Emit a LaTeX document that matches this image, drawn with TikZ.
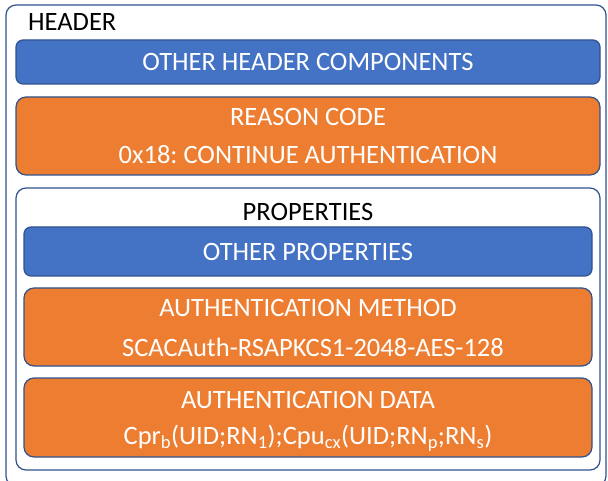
\documentclass[tikz,border=0pt]{standalone}
\usepackage{fontspec}
\setmainfont{Carlito}
\frenchspacing
\definecolor{accblue}{HTML}{4472C4}
\definecolor{accorange}{HTML}{ED7D31}
\definecolor{edgeblue}{HTML}{2F528F}
\newcommand{\sbs}[1]{\textsubscript{#1}}
\tikzset{
  frame/.style={draw=edgeblue, line width=1.2pt, fill=white, rounded corners=10pt},
  bluebar/.style={draw=edgeblue, line width=1.2pt, fill=accblue, rounded corners=7pt},
  orangebar/.style={draw=edgeblue, line width=1.2pt, fill=accorange, rounded corners=10pt},
  lbl/.style={font=\fontsize{26.5}{30}\selectfont, text=white, inner sep=0pt},
  dlbl/.style={font=\fontsize{26.5}{30}\selectfont, text=black, inner sep=0pt},
}
\begin{document}
\begin{tikzpicture}[x=1pt, y=-1pt]
\useasboundingbox (0,0) rectangle (608,481);
\clip (0,0) rectangle (608,481);
% outer header frame
\draw[frame] (6,5) rectangle (606,486);
\node[dlbl, anchor=west] (hdr) at (28,22) {HEADER};
% other header components
\draw[bluebar] (16,40) rectangle (600,84);
\node[lbl] (ohc) at (308,62) {OTHER HEADER COMPONENTS};
% reason code
\draw[orangebar] (16,97) rectangle (600,175);
\node[lbl] (rc) at (308,117) {REASON CODE};
\node[lbl] (rcv) at (308,155) {0x18: CONTINUE AUTHENTICATION};
% properties frame
\draw[frame] (16,188) rectangle (600,470);
\node[dlbl] (props) at (308,212) {PROPERTIES};
\draw[bluebar] (24,227) rectangle (592,276);
\node[lbl] (op) at (308,252) {OTHER PROPERTIES};
\draw[orangebar] (24,288) rectangle (592,366);
\node[lbl] (am) at (308,308) {AUTHENTICATION METHOD};
\node[lbl] (amv) at (313,347) {SCACAuth-RSAPKCS1-2048-AES-128};
\draw[orangebar] (24,378) rectangle (592,457);
\node[lbl] (ad) at (308,400) {AUTHENTICATION DATA};
\node[lbl] (adv) at (308,438) {Cpr\sbs{b}(UID;RN\sbs{1});Cpu\sbs{cx}(UID;RN\sbs{p};RN\sbs{s})};
\end{tikzpicture}
\end{document}
